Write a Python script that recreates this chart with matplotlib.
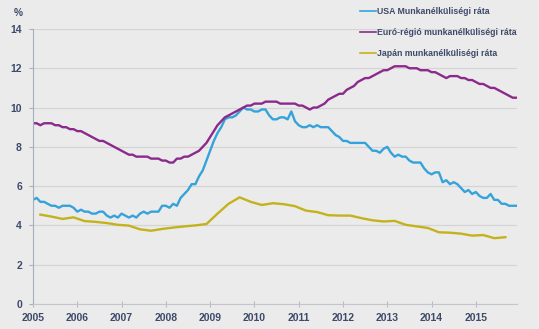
"""Munkanélküliségi ráták: USA, euró-régió, Japán (2005-2015)."""

import numpy as np
import matplotlib
matplotlib.use("Agg")
import matplotlib.pyplot as plt

# havi adatok, 2005 jan - 2015 dec
us_rate = [
    5.3, 5.4, 5.2, 5.2, 5.1, 5.0, 5.0, 4.9, 5.0, 5.0, 5.0, 4.9,
    4.7, 4.8, 4.7, 4.7, 4.6, 4.6, 4.7, 4.7, 4.5, 4.4, 4.5, 4.4,
    4.6, 4.5, 4.4, 4.5, 4.4, 4.6, 4.7, 4.6, 4.7, 4.7, 4.7, 5.0,
    5.0, 4.9, 5.1, 5.0, 5.4, 5.6, 5.8, 6.1, 6.1, 6.5, 6.8, 7.3,
    7.8, 8.3, 8.7, 9.0, 9.4, 9.5, 9.5, 9.6, 9.8, 10.0, 9.9, 9.9,
    9.8, 9.8, 9.9, 9.9, 9.6, 9.4, 9.4, 9.5, 9.5, 9.4, 9.8, 9.3,
    9.1, 9.0, 9.0, 9.1, 9.0, 9.1, 9.0, 9.0, 9.0, 8.8, 8.6, 8.5,
    8.3, 8.3, 8.2, 8.2, 8.2, 8.2, 8.2, 8.0, 7.8, 7.8, 7.7, 7.9,
    8.0, 7.7, 7.5, 7.6, 7.5, 7.5, 7.3, 7.2, 7.2, 7.2, 6.9, 6.7,
    6.6, 6.7, 6.7, 6.2, 6.3, 6.1, 6.2, 6.1, 5.9, 5.7, 5.8, 5.6,
    5.7, 5.5, 5.4, 5.4, 5.6, 5.3, 5.3, 5.1, 5.1, 5.0, 5.0, 5.0,
]
euro_rate = [
    9.2, 9.2, 9.1, 9.2, 9.2, 9.2, 9.1, 9.1, 9.0, 9.0, 8.9, 8.9,
    8.8, 8.8, 8.7, 8.6, 8.5, 8.4, 8.3, 8.3, 8.2, 8.1, 8.0, 7.9,
    7.8, 7.7, 7.6, 7.6, 7.5, 7.5, 7.5, 7.5, 7.4, 7.4, 7.4, 7.3,
    7.3, 7.2, 7.2, 7.4, 7.4, 7.5, 7.5, 7.6, 7.7, 7.8, 8.0, 8.2,
    8.5, 8.8, 9.1, 9.3, 9.5, 9.6, 9.7, 9.8, 9.9, 10.0, 10.1, 10.1,
    10.2, 10.2, 10.2, 10.3, 10.3, 10.3, 10.3, 10.2, 10.2, 10.2, 10.2, 10.2,
    10.1, 10.1, 10.0, 9.9, 10.0, 10.0, 10.1, 10.2, 10.4, 10.5, 10.6, 10.7,
    10.7, 10.9, 11.0, 11.1, 11.3, 11.4, 11.5, 11.5, 11.6, 11.7, 11.8, 11.9,
    11.9, 12.0, 12.1, 12.1, 12.1, 12.1, 12.0, 12.0, 12.0, 11.9, 11.9, 11.9,
    11.8, 11.8, 11.7, 11.6, 11.5, 11.6, 11.6, 11.6, 11.5, 11.5, 11.4, 11.4,
    11.3, 11.2, 11.2, 11.1, 11.0, 11.0, 10.9, 10.8, 10.7, 10.6, 10.5, 10.5,
]
# Japán: negyedéves, 2005 márc - 2015 szept
japan_rate = [
    4.55, 4.45, 4.33, 4.41, 4.22, 4.18, 4.12, 4.03, 3.99, 3.80, 3.73,
    3.82, 3.89, 3.95, 4.00, 4.07, 4.60, 5.10, 5.43, 5.20, 5.04, 5.13,
    5.08, 4.98, 4.75, 4.68, 4.52, 4.50, 4.50, 4.37, 4.26, 4.20, 4.23,
    4.03, 3.95, 3.87, 3.65, 3.63, 3.58, 3.48, 3.51, 3.35, 3.40,
]
years = list(range(2005, 2016))
labels = ["USA Munkanélküliségi ráta",
          "Euró-régió munkanélküliségi ráta",
          "Japán munkanélküliségi ráta"]

BG = "#EBEBEB"
TXT = "#3E4A6A"


def main():
    t_month = 2005 + np.arange(len(us_rate)) / 12
    t_quarter = 2005 + 2 / 12 + np.arange(len(japan_rate)) * 0.25

    fig = plt.figure(figsize=(5.39, 3.29), dpi=100, facecolor=BG)
    ax = fig.add_axes([0.0612, 0.076, 0.898, 0.836], facecolor=BG)

    ax.plot(t_month, us_rate, color="#35A3DB", lw=1.7, label=labels[0])
    ax.plot(t_month, euro_rate, color="#8C2A8C", lw=1.7, label=labels[1])
    ax.plot(t_quarter, japan_rate, color="#C4B21C", lw=1.7, label=labels[2])

    ax.set_xlim(2005, 2015.93)
    ax.set_ylim(0, 14)
    ax.set_yticks(range(0, 15, 2))
    ax.set_xticks(years)
    ax.grid(axis="y", color="#D4D4D4", lw=0.9)
    ax.set_axisbelow(True)

    for s in ("top", "right"):
        ax.spines[s].set_visible(False)
    ax.spines["left"].set_color("#A8AEC2")
    ax.spines["bottom"].set_color("#C4C6CE")

    font = dict(family="Liberation Sans", weight="bold", size=7.3, color=TXT)
    ax.tick_params(axis="x", direction="inout", length=5, color="#B8BAC4", pad=4)
    ax.tick_params(axis="y", length=3, color="#A8AEC2", pad=5)
    for lab in ax.get_xticklabels() + ax.get_yticklabels():
        lab.set_fontproperties(dict(family="Liberation Sans", weight="bold", size=7.5))
        lab.set_color(TXT)

    fig.text(0.034, 0.962, "%", ha="center", va="center", **font)

    leg = fig.legend(loc="upper left", bbox_to_anchor=(0.668, 0.978), frameon=False,
                     prop=dict(family="Liberation Sans", weight="bold", size=6.3),
                     handlelength=1.8, handletextpad=0.15, labelspacing=1.35,
                     borderpad=0, borderaxespad=0)
    for txt in leg.get_texts():
        txt.set_color(TXT)
    for h in leg.get_lines():
        h.set_linewidth(1.2)

    fig.savefig("out.png", dpi=100, facecolor=BG)
    plt.close(fig)


if __name__ == "__main__":
    main()
